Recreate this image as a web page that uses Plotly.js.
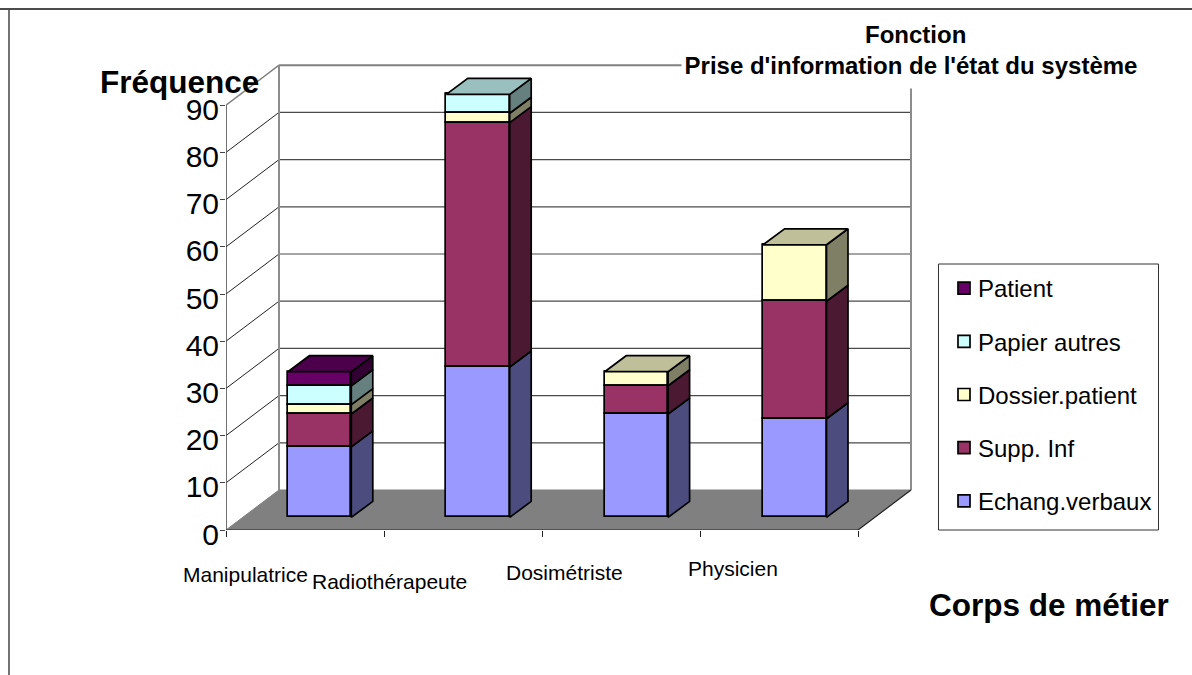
<!DOCTYPE html>
<html><head><meta charset="utf-8">
<script src="https://cdn.plot.ly/plotly-3.0.1.min.js"></script>
<style>html,body{margin:0;padding:0;background:#fff;overflow:hidden}</style>
</head><body><div id="chart" style="width:1192px;height:675px"></div>
<script>
// ---- data ----
const categories = ["Manipulatrice", "Radiothérapeute", "Dosimétriste", "Physicien"];
const echangVerbaux = [15, 32, 22, 21];
const suppInf = [7, 52, 6, 25];
const dossierPatient = [2, 2, 3, 12];
const papierAutres = [4, 4, 0, 0];
const patient = [3, 0, 0, 0];
const seriesNames = ["Echang.verbaux", "Supp. Inf", "Dossier.patient", "Papier autres", "Patient"];
const yTicks = [0, 10, 20, 30, 40, 50, 60, 70, 80, 90];

// ---- styles ----
const frontColors = ["#9999FF", "#993366", "#FFFFCC", "#CCFFFF", "#660066"];
const sideColors = ["#4C4C7F", "#4C1933", "#7F7F66", "#667F7F", "#330033"];
const topColors = ["#7373BF", "#732650", "#BFBF99", "#99BFBF", "#4C004C"];
const FONT = "Liberation Sans, Arial, sans-serif";

// ---- geometry of the oblique frame (pixels) ----
const L = 226, R = 921, T = 60, B = 530;
const pitch = 158, unit = 4.72, backDx = 53, backDy = 40;
const barZeroX = 319.6, barPitch = 158.4, barZeroY = 517.4, barUnit = 4.7, barDx = 21.5, barDy = 16, barW = 63.4;
const px = v => (v - L) / (R - L), py = v => (B - v) / (B - T);
const xb = backDx / pitch, yb = backDy / unit;
const dX = barDx / barPitch, dY = barDy / barUnit, hw = barW / barPitch / 2;

const allSeries = [echangVerbaux, suppInf, dossierPatient, papierAutres, patient];
const idx = categories.map((_, i) => i);
const traces = [];
const cum = idx.map(() => 0);
const bases = allSeries.map(s => {
  const b = cum.slice();
  s.forEach((v, i) => cum[i] += v);
  return b;
});

// front faces (last series first, so the legend reads top-down as in the reference)
[4, 3, 2, 1, 0].forEach(k => traces.push({
  type: "bar", name: seriesNames[k], x: idx, y: allSeries[k], base: bases[k], width: barW / barPitch,
  xaxis: "x2", yaxis: "y2", legendgroup: seriesNames[k],
  marker: { color: frontColors[k], line: { color: "#000", width: 1.7 } },
  hoverinfo: "name+y"
}));
// side and top faces
allSeries.forEach((s, k) => {
  const sx = [], sy = [], tx = [], ty = [];
  s.forEach((v, i) => {
    if (!v) return;
    const r = i + hw, l = i - hw, a = bases[k][i], b = a + v;
    sx.push(r, r + dX, r + dX, r, r, null);
    sy.push(a, a + dY, b + dY, b, a, null);
    if (b === cum[i]) {
      tx.push(l, r, r + dX, l + dX, l, null);
      ty.push(b, b, b + dY, b + dY, b, null);
    }
  });
  const face = (x, y, c) => ({
    type: "scatter", mode: "lines", x, y, xaxis: "x2", yaxis: "y2", fill: "toself", fillcolor: c,
    line: { color: "#000", width: 1.7 }, showlegend: false, hoverinfo: "skip", legendgroup: seriesNames[k]
  });
  traces.push(face(sx, sy, sideColors[k]));
  if (tx.length) traces.push(face(tx, ty, topColors[k]));
});
// front edges of the frame (drawn over the plot border)
const x0 = -0.5, xEnd = 3.5;
traces.push({ type: "scatter", mode: "lines", x: [x0, x0], y: [0, 90], cliponaxis: false,
  line: { color: "#444", width: 1.5 }, showlegend: false, hoverinfo: "skip" });
traces.push({ type: "scatter", mode: "lines", x: [x0, xEnd, xEnd + xb], y: [0, 0, yb], cliponaxis: false,
  line: { color: "#222", width: 1.2 }, showlegend: false, hoverinfo: "skip" });

// floor, walls, gridlines
const shapes = [
  { type: "path", layer: "below", xref: "x", yref: "y",
    path: `M${x0},0 L${xEnd},0 L${xEnd + xb},${yb} L${x0 + xb},${yb} Z`,
    fillcolor: "#808080", line: { width: 0 } },
];
yTicks.forEach(v => {
  const top = v === 90;
  shapes.push({ type: "line", layer: "below", xref: "x", yref: "y",
    x0: x0 + xb, x1: xEnd + xb, y0: v + yb, y1: v + yb,
    line: { color: top ? "#808080" : (v === 0 ? "#808080" : "#4a4a4a"), width: top ? 2 : 1.2 } });
  shapes.push({ type: "line", layer: "below", xref: "x", yref: "y",
    x0: x0, x1: x0 + xb, y0: v, y1: v + yb,
    line: { color: top || v === 0 ? "#808080" : "#222", width: top ? 1.5 : 1 } });
});
[x0 + xb, xEnd + xb].forEach(x => shapes.push({ type: "line", layer: "below", xref: "x", yref: "y",
  x0: x, x1: x, y0: yb, y1: 90 + yb, line: { color: "#8c8c8c", width: 2 } }));
// outer chart border and legend frame
shapes.push({ type: "line", xref: "paper", yref: "paper", x0: px(0), x1: px(1192), y0: py(9), y1: py(9), line: { color: "#111", width: 1.5 } });
shapes.push({ type: "line", xref: "paper", yref: "paper", x0: px(9), x1: px(9), y0: py(9), y1: py(675), line: { color: "#444", width: 1.5 } });
shapes.push({ type: "rect", layer: "below", xref: "paper", yref: "paper", x0: px(938.5), x1: px(1158.5), y0: py(264), y1: py(530), line: { color: "#333", width: 1 }, fillcolor: "#fff" });

const note = (text, x, y, size, bold, extra) => Object.assign({
  text: bold ? `<b>${text}</b>` : text, xref: "paper", yref: "paper", x: px(x), y: py(y),
  xanchor: "center", yanchor: "middle", showarrow: false, font: { family: FONT, size, color: "#000" }
}, extra || {});
const catLabelX = [245, 389, 564, 733], catLabelY = [574, 581, 572, 568];
const annotations = [
  note("Prise d'information de l'état du système", 910.5, 65, 24, true, { width: 458, height: 46, bgcolor: "#fff", borderpad: 0 }),
  note("Fonction", 915, 34, 24, true),
  note("Fréquence", 179.5, 82, 31.5, true),
  note("Corps de métier", 1049, 605, 31.5, true),
].concat(categories.map((c, i) => note(c, catLabelX[i], catLabelY[i], 21, false)));

const layout = {
  width: 1192, height: 675, paper_bgcolor: "#fff", plot_bgcolor: "rgba(0,0,0,0)",
  margin: { l: L, r: 1192 - R, t: T, b: 675 - B, pad: 0 },
  barmode: "overlay", bargap: 0,
  xaxis: { range: [x0, x0 + (R - L) / pitch], tickmode: "array", tickvals: [-0.5, 0.5, 1.5, 2.5, 3.5], ticktext: ["", "", "", "", ""],
    ticks: "outside", ticklen: 6, tickcolor: "#222", tickwidth: 1.2, showgrid: false, zeroline: false, showline: false, fixedrange: true },
  yaxis: { range: [0, (B - T) / unit], tickmode: "array", tickvals: yTicks, ticks: "outside", ticklen: 5, tickcolor: "#444", tickwidth: 1.2,
    showgrid: false, zeroline: false, showline: false, ticklabelshift: 4, ticklabelstandoff: -5,
    tickfont: { family: FONT, size: 30, color: "#000" }, fixedrange: true },
  xaxis2: { overlaying: "x", visible: false, range: [(L - barZeroX) / barPitch, (R - barZeroX) / barPitch], fixedrange: true },
  yaxis2: { overlaying: "y", visible: false, range: [(barZeroY - B) / barUnit, (barZeroY - T) / barUnit], fixedrange: true },
  legend: { x: px(938), y: py(266), xanchor: "left", yanchor: "top", traceorder: "grouped", tracegroupgap: 19,
    bgcolor: "rgba(0,0,0,0)", borderwidth: 0, font: { family: FONT, size: 24, color: "#000" } },
  showlegend: true, shapes, annotations
};
Plotly.newPlot("chart", traces, layout, { displayModeBar: false, responsive: false }).then(gd => {
  // reference keeps the legend swatch closer to its label
  gd.querySelectorAll(".legend .legendsymbols, .legend .legendfill, .legend .legendlines")
    .forEach(g => g.setAttribute("transform", "translate(6,0)"));
});
</script></body></html>
